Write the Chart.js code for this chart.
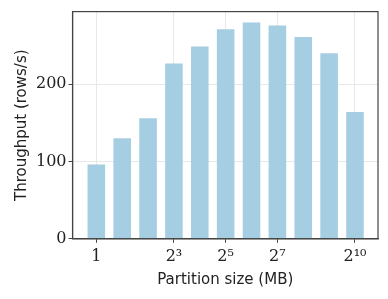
<!DOCTYPE html>
<html>
<head>
<meta charset="utf-8">
<script src="https://cdn.jsdelivr.net/npm/chart.js@4"></script>
<style>
  html, body { margin: 0; padding: 0; background: #fff; }
  #wrap { width: 388px; height: 299px; }
</style>
</head>
<body>
<div id="wrap"><canvas id="myChart"></canvas></div>
<script>
"use strict"

// partition size = 2^exponent MB
let exponents = [0, 1, 2, 3, 4, 5, 6, 7, 8, 9, 10];
let throughput = [96, 130, 156, 227, 249, 271, 280, 276, 261, 240, 164];

let xTickPos = [0, 3, 5, 7, 10];
let xTickLabels = ['1', '2³', '2⁵', '2⁷', '2¹⁰'];
let yTicks = [0, 100, 200];

// ram runt hela plotytan
const frame = {
  id: 'frame',
  afterDraw(chart) {
    const a = chart.chartArea;
    const c = chart.ctx;
    c.save();
    c.strokeStyle = '#444';
    c.lineWidth = 1.2;
    c.strokeRect(a.left, a.top, a.right - a.left, a.bottom - a.top);
    c.restore();
  }
};

const ctx = document.getElementById('myChart');

new Chart(ctx, {
  type: 'bar',
  data: {
    datasets: [{
      data: exponents.map((e, i) => ({ x: e, y: throughput[i] })),
      backgroundColor: '#a6cee3',
      borderWidth: 0,
      barPercentage: 0.68,
      categoryPercentage: 1
    }]
  },
  options: {
    responsive: true,
    maintainAspectRatio: false,
    animation: false,
    layout: { padding: { top: 9, right: 10, left: 13, bottom: 10 } },
    plugins: { legend: { display: false }, tooltip: { enabled: false } },
    scales: {
      x: {
        type: 'linear',
        offset: false,
        min: -0.92,
        max: 10.89,
        afterBuildTicks: axis => { axis.ticks = xTickPos.map(v => ({ value: v })); },
        ticks: {
          callback: (v) => xTickLabels[xTickPos.indexOf(v)],
          color: '#222',
          font: { family: 'DejaVu Serif', size: 16 },
          padding: 4,
          maxRotation: 0
        },
        grid: { offset: false, color: '#e8e8e8', tickColor: '#444', tickLength: 4 },
        border: { color: '#444', width: 1.2 },
        title: {
          display: true,
          text: 'Partition size (MB)',
          color: '#222',
          font: { family: 'DejaVu Sans', size: 15 },
          padding: { top: 1, bottom: 0 }
        }
      },
      y: {
        min: 0,
        max: 294,
        afterBuildTicks: axis => { axis.ticks = yTicks.map(v => ({ value: v })); },
        ticks: {
          color: '#222',
          font: { family: 'DejaVu Serif', size: 16 },
          padding: 2
        },
        grid: { color: '#e8e8e8', tickColor: '#444', tickLength: 4 },
        border: { color: '#444', width: 1.2 },
        title: {
          display: true,
          text: 'Throughput (rows/s)',
          color: '#222',
          font: { family: 'DejaVu Sans', size: 15 },
          padding: { top: 0, bottom: 3 }
        }
      }
    }
  },
  plugins: [frame]
});
</script>
</body>
</html>
